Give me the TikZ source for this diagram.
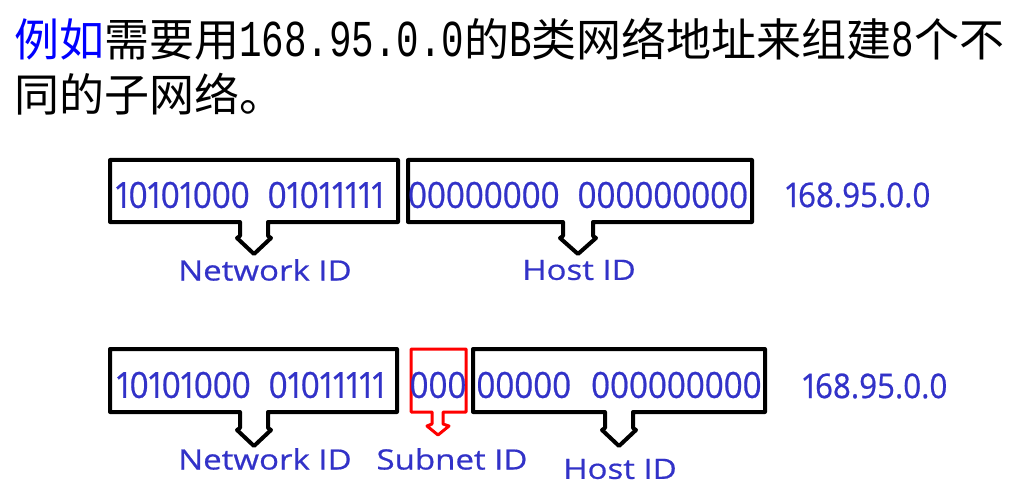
\documentclass[tikz,border=0pt]{standalone}
\usepackage{fontspec}
\newfontfamily\cjk{Noto Sans CJK SC}
\newfontfamily\hwfont{Liberation Mono}[FakeStretch=0.725]
\newfontfamily\numfont{Open Sans}[FakeStretch=0.92,FakeBold=0.6,Numbers=Proportional]
\newfontfamily\lblfont{Open Sans}[FakeStretch=1.18,FakeBold=0.6]
\definecolor{txtblue}{RGB}{50,50,200}
\newcommand{\halfw}[1]{{\fontsize{51.75}{52}\selectfont\hwfont #1}}
\begin{document}
\begin{tikzpicture}[x=1pt,y=-1pt,
  idbox/.style={draw=black,line width=4pt,line join=round},
  subbox/.style={draw=red,line width=3pt,line join=round},
  bits/.style={text=txtblue,inner sep=0pt,font=\fontsize{36}{36}\selectfont\numfont},
  dotted quad/.style={text=txtblue,inner sep=0pt,font=\fontsize{34}{34}\selectfont\numfont},
  lbl/.style={text=txtblue,inner sep=0pt,font=\fontsize{28}{28}\selectfont\lblfont},
  title/.style={anchor=base west,inner sep=0pt,font=\fontsize{45}{45}\selectfont\cjk}]
\useasboundingbox (0,0) rectangle (1028,500);
\fill[white] (0,0) rectangle (1028,500);
% title
\node[title] (t1) at (14,57) {\textcolor{blue}{例如}需要用\halfw{168.95.0.0}的\halfw{B}类网络地址来组建\halfw{8}个不};
\node[title] (t2) at (14,112) {同的子网络。};
% row 1 shapes
\draw[idbox] (110,160) -- (398,160) -- (398,222) -- (268,222) -- (268,236) -- (271,238) -- (254,254) -- (237,238) -- (240,236) -- (240,222) -- (110,222) -- cycle;
\draw[idbox] (408,160) -- (752,160) -- (752,222) -- (593,222) -- (593,236) -- (596,238) -- (578,254) -- (560,238) -- (563,236) -- (563,222) -- (408,222) -- cycle;
% row 1 text
\node[bits] (n1) at (250,195) {10101000\hspace{18pt}01011111};
\node[bits] (h1) at (578,195) {00000000\hspace{18pt}000000000};
\node[dotted quad] (q1) at (858,195) {168.95.0.0};
\node[lbl] (nl1) at (265,270) {Network ID};
\node[lbl] (hl1) at (579,270) {Host ID};
% row 2 shapes
\draw[idbox] (110,349) -- (397,349) -- (397,412) -- (268,412) -- (268,428) -- (271,430) -- (254,446) -- (237,430) -- (240,428) -- (240,412) -- (110,412) -- cycle;
\draw[subbox] (411,349) -- (466,349) -- (466,412) -- (443,412) -- (443,424) -- (449,426) -- (438,435) -- (427,426) -- (432,424) -- (432,412) -- (411,412) -- cycle;
\draw[idbox] (473,349) -- (765,349) -- (765,412) -- (633,412) -- (633,428) -- (636,430) -- (619,446) -- (602,430) -- (605,428) -- (605,412) -- (473,412) -- cycle;
% row 2 text
\node[bits] (n2) at (251,385) {10101000\hspace{18pt}01011111};
\node[bits] (s2) at (438,385) {000};
\node[bits] (h2) at (619,385) {00000\hspace{20pt}000000000};
\node[dotted quad] (q2) at (875,386) {168.95.0.0};
\node[lbl] (nl2) at (265,459) {Network ID};
\node[lbl] (sl2) at (452,459) {Subnet ID};
\node[lbl] (hl2) at (620,469) {Host ID};
\end{tikzpicture}
\end{document}
